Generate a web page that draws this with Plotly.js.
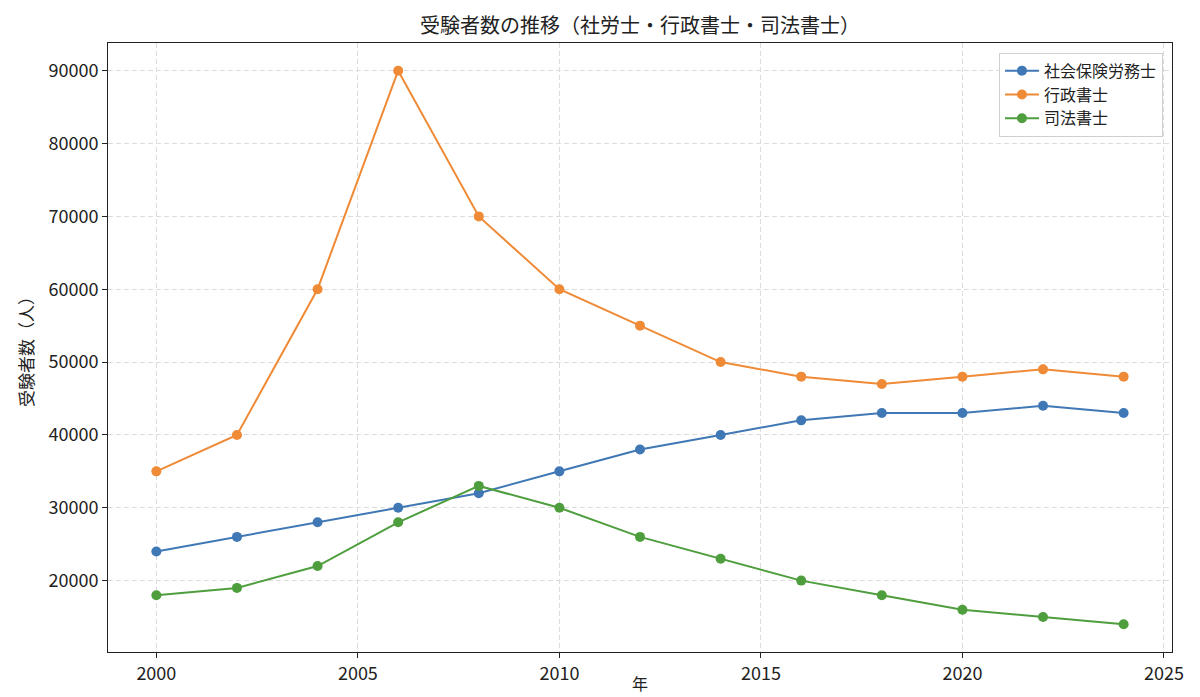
<!DOCTYPE html>
<html>
<head>
<meta charset="utf-8">
<script src="https://cdn.plot.ly/plotly-3.0.1.min.js"></script>
<style>
  html, body { margin: 0; padding: 0; background: #fff; }
  #chart { width: 1200px; height: 697px; }
</style>
</head>
<body>
<div id="chart"></div>
<script>
// 受験者数データ（2年ごと）
const years = [2000, 2002, 2004, 2006, 2008, 2010, 2012, 2014, 2016, 2018, 2020, 2022, 2024];
const sharoushi = [24000, 26000, 28000, 30000, 32000, 35000, 38000, 40000, 42000, 43000, 43000, 44000, 43000];
const gyousei = [35000, 40000, 60000, 90000, 70000, 60000, 55000, 50000, 48000, 47000, 48000, 49000, 48000];
const shihou = [18000, 19000, 22000, 28000, 33000, 30000, 26000, 23000, 20000, 18000, 16000, 15000, 14000];
const seriesNames = ['社会保険労務士', '行政書士', '司法書士'];
const colors = ['#3f78b5', '#ef8a36', '#4f9e3e'];
const xTicks = [2000, 2005, 2010, 2015, 2020, 2025];
const yTicks = [20000, 30000, 40000, 50000, 60000, 70000, 80000, 90000];

const font = '"Noto Sans CJK JP", "Noto Sans", sans-serif';

const mkTrace = (y, i) => ({
    type: 'scatter',
    mode: 'lines+markers',
    name: seriesNames[i],
    x: years,
    y: y,
    line: { color: colors[i], width: 2 },
    marker: { color: colors[i], size: 10 },
});

const data = [sharoushi, gyousei, shihou].map(mkTrace);

const axisCommon = {
    showline: true,
    linecolor: '#222',
    linewidth: 1,
    mirror: true,
    ticks: 'outside',
    ticklen: 5,
    tickcolor: '#222',
    showgrid: true,
    gridcolor: '#dcdcdc',
    griddash: '5px,3px',
    gridwidth: 1,
    zeroline: false,
    tickfont: { family: font, size: 18, color: '#222' },
};

const layout = {
    width: 1200,
    height: 697,
    paper_bgcolor: '#fff',
    plot_bgcolor: '#fff',
    margin: { l: 108, r: 28, t: 43, b: 45 },
    font: { family: font, color: '#222' },
    title: {
        text: '受験者数の推移（社労士・行政書士・司法書士）',
        font: { family: font, size: 20, color: '#222' },
        x: 0.5, xref: 'paper', xanchor: 'center',
        y: 0.963, yanchor: 'middle',
    },
    xaxis: {
        ...axisCommon,
        range: [1998.8, 2025.2],
        tickmode: 'array',
        tickvals: xTicks,
    },
    yaxis: {
        ...axisCommon,
        range: [10200, 93800],
        tickmode: 'array',
        tickvals: yTicks,
        tickformat: 'd',
        title: { text: '受験者数（人）', font: { family: font, size: 17 }, standoff: 10 },
    },
    // x軸タイトル: 下端ぎりぎりに置く
    annotations: [{
        text: '年',
        xref: 'paper', yref: 'paper',
        x: 0.5, y: 0,
        xanchor: 'center', yanchor: 'bottom',
        yshift: -45,
        showarrow: false,
        font: { family: font, size: 16, color: '#222' },
    }],
    legend: {
        x: 0.9915, xanchor: 'right',
        y: 0.984, yanchor: 'top',
        bgcolor: 'rgba(255,255,255,0.9)',
        bordercolor: '#d0d0d0',
        borderwidth: 1,
        font: { family: font, size: 16, color: '#222' },
        itemwidth: 34,
    },
    showlegend: true,
};

Plotly.newPlot('chart', data, layout, { displayModeBar: false, staticPlot: true });
</script>
</body>
</html>
